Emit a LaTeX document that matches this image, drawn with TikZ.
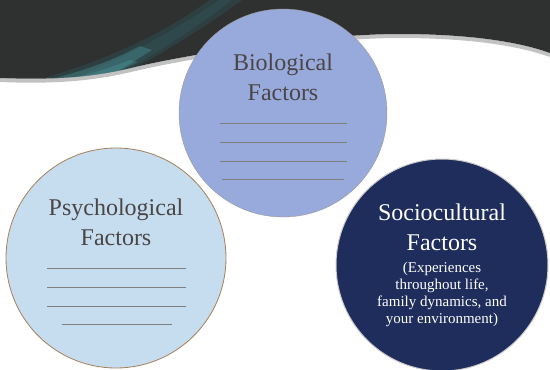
\documentclass[tikz,border=0pt]{standalone}
\usepackage{fontspec}
\setmainfont{Liberation Serif}
\usetikzlibrary{positioning}
\definecolor{bandgray}{HTML}{2F3030}
\definecolor{edgegray}{HTML}{9A9A9A}
\definecolor{streakdark}{HTML}{2E6F77}
\definecolor{streaklight}{HTML}{55AEB4}
\definecolor{biofill}{HTML}{98A9DB}
\definecolor{psyfill}{HTML}{C6DCEF}
\definecolor{socfill}{HTML}{1F2D5C}
\definecolor{txtgray}{HTML}{4A4646}
\definecolor{rulegray}{HTML}{7F7F7F}
\newcommand{\bandedge}{(0,78) .. controls (50,80) and (90,78) .. (135,67)
  .. controls (200,52) and (320,34) .. (400,34)
  .. controls (470,34) and (520,42) .. (550,53)}

\begin{document}
\begin{tikzpicture}[x=1pt,y=-1pt]
  \tikzstyle{factor}=[circle,inner sep=0pt]
  \tikzstyle{title}=[align=center,text=txtgray,font=\fontsize{24}{30}\selectfont]
  \tikzstyle{rule}=[rulegray,line width=0.7pt]
  \useasboundingbox (0,0) rectangle (550,370);
  \fill[white] (0,0) rectangle (550,370);

  % dark band with its shadow and the teal streaks
  \draw[edgegray!60,line width=4pt] [yshift=-2pt] \bandedge;
  \fill[bandgray] (550,0) -- (0,0) -- \bandedge -- cycle;
  \begin{scope}
    \clip (550,0) -- (0,0) -- \bandedge -- cycle;
    \fill[streakdark,opacity=0.25] (30,82) .. controls (110,60) and (170,30) .. (212,-2)
      -- (245,-2) .. controls (190,38) and (140,66) .. (105,84) -- cycle;
    \fill[streakdark,opacity=0.2] (60,84) .. controls (120,60) and (170,34) .. (222,-2)
      -- (235,-2) .. controls (185,36) and (140,64) .. (100,84) -- cycle;
    \fill[streaklight,opacity=0.3] (40,82) .. controls (80,72) and (110,62) .. (140,46)
      -- (152,50) .. controls (130,64) and (110,76) .. (95,84) -- cycle;
    \fill[streaklight,opacity=0.25] (60,82) .. controls (90,74) and (110,68) .. (130,60)
      -- (138,62) .. controls (120,70) and (105,78) .. (95,84) -- cycle;
  \end{scope}

  \node[factor,fill=biofill,draw=edgegray,minimum size=208pt] (bio) at (283,113) {};
  \node[factor,fill=psyfill,draw=brown!60!gray,line width=0.8pt,minimum size=220pt] (psy) at (116,258) {};
  \node[factor,fill=socfill,draw=gray!40,line width=1pt,minimum size=212pt] (soc) at (442,265) {};

  \node[title] (bioT) at (283,77) {Biological\\Factors};
  \foreach \y in {123,142,161} {
    \draw[rule] (220,\y) -- (347,\y);
  }
  \draw[rule] (222,179) -- (344,179);

  \node[title] (psyT) at (116,222) {Psychological\\Factors};
  \foreach \y in {268,287,306} {
    \draw[rule] (47,\y) -- (186,\y);
  }
  \draw[rule] (62,324) -- (172,324);

  \node[title,text=white] (socT) at (442,227) {Sociocultural\\Factors};
  \node[align=center,text=white,font=\fontsize{15}{17}\selectfont,below=5pt of socT] (socN)
    {(Experiences\\throughout life,\\family dynamics, and\\your environment)};
\end{tikzpicture}
\end{document}
